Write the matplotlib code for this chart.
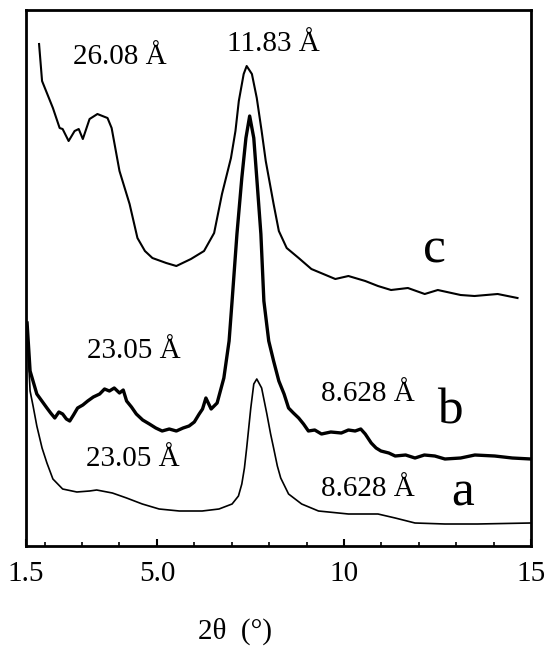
import matplotlib
matplotlib.use("Agg")
import matplotlib.pyplot as plt

plt.rcParams['font.family'] = ['Liberation Serif', 'DejaVu Serif']

# curve c (top)
tc = [1.85, 1.93, 2.22, 2.40, 2.48, 2.64, 2.80, 2.91, 3.02, 3.20, 3.41, 3.68, 3.79,
      4.00, 4.27, 4.48, 4.68, 4.88, 5.25, 5.52, 5.91, 6.26, 6.53, 6.74, 6.98, 7.10,
      7.19, 7.32, 7.40, 7.54, 7.67, 7.80, 7.91, 8.12, 8.26, 8.47, 8.79, 9.13, 9.77,
      10.12, 10.57, 10.91, 11.26, 11.71, 12.16, 12.51, 13.12, 13.49, 14.11, 14.64]
ic = [502, 465, 438, 418, 417, 405, 415, 417, 407, 427, 432, 428, 418,
      375, 342, 308, 295, 288, 283, 280, 287, 295, 313, 352, 388, 415,
      445, 472, 480, 472, 448, 415, 385, 342, 315, 298, 288, 277, 267,
      270, 265, 260, 256, 258, 252, 256, 251, 250, 252, 248]

# curve b (middle, noisy trace)
tb = [1.53, 1.61, 1.79, 2.06, 2.16, 2.27, 2.38, 2.48, 2.58, 2.67, 2.77, 2.88,
      3.02, 3.15, 3.30, 3.47, 3.60, 3.73, 3.86, 4.00, 4.10, 4.19, 4.32, 4.45,
      4.62, 4.80, 4.97, 5.14, 5.33, 5.52, 5.70, 5.86, 6.00, 6.13, 6.22, 6.31,
      6.45, 6.61, 6.79, 6.93, 7.01, 7.14, 7.27, 7.38, 7.48, 7.59, 7.67, 7.78,
      7.86, 7.99, 8.12, 8.26, 8.40, 8.52, 8.65, 8.79, 8.92, 9.05, 9.22, 9.40,
      9.65, 9.93, 10.12, 10.30, 10.45, 10.57, 10.73, 10.86, 10.99, 11.20,
      11.37, 11.65, 11.90, 12.15, 12.43, 12.70, 13.12, 13.50, 14.03, 14.50, 15.0]
ib = [223, 175, 152, 138, 133, 128, 134, 132, 127, 125, 131, 138,
      141, 145, 149, 152, 157, 155, 158, 153, 156, 145, 139, 132,
      126, 122, 118, 115, 117, 115, 118, 120, 124, 132, 137, 148,
      137, 143, 168, 205, 245, 312, 368, 408, 430, 408, 368, 312,
      245, 205, 185, 165, 152, 138, 133, 128, 122, 115, 116, 112,
      114, 113, 116, 115, 117, 112, 103, 98, 95, 93, 90, 91, 88,
      91, 90, 87, 88, 91, 90, 88, 87]

# curve a (bottom)
ta = [1.55, 1.61, 1.69, 1.79, 1.93, 2.06, 2.22, 2.48, 2.86, 3.20, 3.39, 3.81,
      4.19, 4.61, 5.06, 5.60, 6.21, 6.66, 7.01, 7.18, 7.27, 7.34, 7.40, 7.51,
      7.59, 7.67, 7.80, 7.94, 8.04, 8.12, 8.22, 8.31, 8.52, 8.87, 9.32, 10.12,
      10.91, 11.37, 11.90, 12.70, 13.57, 15.0]
ia = [200, 155, 140, 120, 98, 83, 67, 57, 54, 55, 56, 53,
      48, 42, 37, 35, 35, 37, 42, 50, 62, 78, 98, 138,
      162, 167, 158, 132, 112, 98, 80, 68, 52, 42, 35, 32,
      32, 28, 23, 22, 22, 23]

peak_labels = ['26.08 Å', '11.83 Å', '23.05 Å', '8.628 Å', '23.05 Å', '8.628 Å']
peak_x = [4.00, 8.12, 4.37, 10.65, 4.35, 10.65]
peak_y = [489, 502, 195, 152, 87, 57]

curve_names = ['c', 'b', 'a']
name_x = [12.43, 12.83, 13.18]
name_y = [284, 123, 41]

fig = plt.figure(figsize=(5.48, 6.46), dpi=100)
ax = fig.add_axes([0.0474, 0.1548, 0.9215, 0.8297])

ax.plot(tc, ic, color='black', lw=1.5)
ax.plot(tb, ib, color='black', lw=2.4)
ax.plot(ta, ia, color='black', lw=1.2)

for s, x, y in zip(peak_labels, peak_x, peak_y):
    ax.text(x, y, s, fontsize=21, ha='center', va='center')
for s, x, y in zip(curve_names, name_x, name_y):
    ax.text(x, y, s, fontsize=37, ha='center', va='baseline')

ax.set_xlim(1.5, 15)
ax.set_ylim(0, 536)
ax.set_xticks([1.5, 5, 10, 15])
ax.set_xticklabels(['1.5', '5.0', '10', '15'])
ax.set_xticks([2, 3, 4, 6, 7, 8, 9, 11, 12, 13, 14], minor=True)
ax.set_yticks([])
ax.tick_params(axis='x', which='major', direction='in', length=5, width=1.5,
               labelsize=21, pad=11)
ax.tick_params(axis='x', which='minor', direction='in', length=3, width=1.2)
for sp in ax.spines.values():
    sp.set_linewidth(2)

fig.text(0.429, 0.022, '2θ  (°)', fontsize=21, ha='center', va='center')

fig.savefig('out.png', dpi=100)
